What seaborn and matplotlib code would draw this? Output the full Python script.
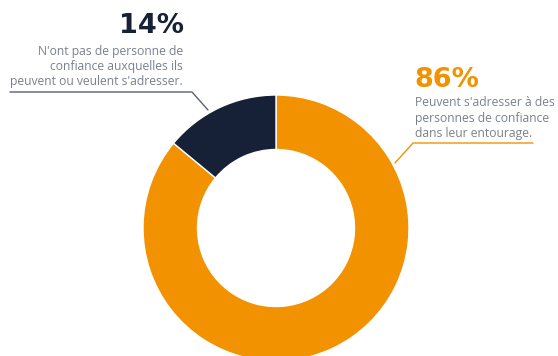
import matplotlib
matplotlib.use("Agg")
import matplotlib.pyplot as plt
import seaborn as sns

labels = ["Peuvent s'adresser à des personnes de confiance dans leur entourage.",
          "N'ont pas de personne de confiance auxquelles ils peuvent ou veulent s'adresser."]
values = [86, 14]
pct_labels = ["86%", "14%"]
colors = ["#f39200", "#162036"]

sns.set_theme(style="white")
plt.rcParams['font.family'] = ['Open Sans', 'DejaVu Sans']

W, H = 558, 356
fig = plt.figure(figsize=(W / 100, H / 100), dpi=100)
ax = fig.add_axes([0, 0, 1, 1])
ax.set_xlim(0, W)
ax.set_ylim(0, H)
ax.axis("off")

def Y(y):
    return H - y

cx, cy, R, r = 276, 228, 133, 78.5
ax.pie(values, colors=colors, startangle=90, counterclock=False,
       center=(cx, Y(cy)), radius=R, frame=True,
       wedgeprops=dict(width=R - r, edgecolor="white", linewidth=1.0))
ax.set_xlim(0, W)
ax.set_ylim(0, H)
ax.set_aspect("equal")
ax.axis("off")

gray = "#7a808e"
pct_font = ["DejaVu Sans"]
# Left annotation (14%)
ax.text(184, Y(33), pct_labels[1], ha="right", va="baseline", fontsize=19.5,
        fontweight="bold", color=colors[1], family=pct_font)
left_lines = ["N'ont pas de personne de", "confiance auxquelles ils",
              "peuvent ou veulent s'adresser."]
for i, t in enumerate(left_lines):
    ax.text(183, Y(51 + 15.5 * i), t, ha="right", va="center", fontsize=8.7,
            color=gray)
ax.plot([10, 192, 208], [Y(92), Y(92), Y(110)], color="#5a6070", lw=1.0)

# Right annotation (86%)
ax.text(414, Y(87), pct_labels[0], ha="left", va="baseline", fontsize=19.5,
        fontweight="bold", color=colors[0], family=pct_font)
right_lines = ["Peuvent s'adresser à des", "personnes de confiance",
               "dans leur entourage."]
for i, t in enumerate(right_lines):
    ax.text(415, Y(103 + 15.5 * i), t, ha="left", va="center", fontsize=8.7,
            color=gray)
ax.plot([533, 413, 395], [Y(143), Y(143), Y(163)], color=colors[0], lw=1.0)

fig.savefig("out.png", dpi=100)
